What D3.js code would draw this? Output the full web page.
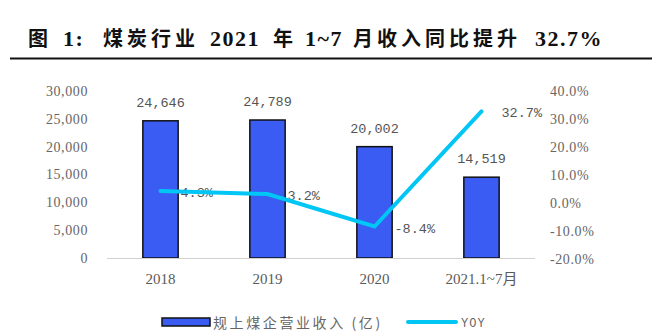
<!DOCTYPE html>
<html>
<head>
<meta charset="utf-8">
<script src="https://cdn.jsdelivr.net/npm/d3@7/dist/d3.min.js"></script>
<style>
  html, body { margin: 0; padding: 0; background: #fff; }
  svg { display: block; }
</style>
</head>
<body>
<svg id="chart" width="654" height="335"></svg>
<script>
// Coal industry revenue (100 million yuan) and year-on-year growth
const categories = ["2018", "2019", "2020", "2021.1~7月"];
const revenue = [24646, 24789, 20002, 14519];
const yoy = [4.3, 3.2, -8.4, 32.7];
const leftTicks = [0, 5000, 10000, 15000, 20000, 25000, 30000];
const rightTicks = [-20, -10, 0, 10, 20, 30, 40];
// Title pieces: [text, is-latin, x]
const titleParts = [
  ["图", false, 28], ["1:", true, 63], ["煤炭行业", false, 103], ["2021", true, 210],
  ["年", false, 273], ["1~7", true, 305], ["月收入同比提升", false, 353], ["32.7%", true, 535]
];
const seriesNames = ["规上煤企营业收入 (亿)", "YOY"];

const svg = d3.select("#chart");
const plot = { left: 107, right: 535, top: 91, bottom: 258 };

const serif = "'Liberation Serif', 'Times New Roman', 'Noto Sans CJK SC', serif";
const mono = "'Liberation Mono', 'DejaVu Sans Mono', monospace";
const cjk = "'Noto Sans CJK SC', sans-serif";

// Title and rule
const titleText = svg.append("text")
  .attr("y", 46)
  .attr("font-weight", "bold")
  .attr("fill", "#111");
titleText.selectAll("tspan")
  .data(titleParts)
  .join("tspan")
  .attr("x", d => d[2])
  .attr("font-family", d => d[1] ? serif : cjk)
  .attr("font-size", d => d[1] ? 22 : 20)
  .attr("letter-spacing", d => d[1] ? 1.5 : 4)
  .text(d => d[0]);
svg.append("line")
  .attr("x1", 10).attr("x2", 652)
  .attr("y1", 58.5).attr("y2", 58.5)
  .attr("stroke", "#111").attr("stroke-width", 2);

// Scales
const x = d3.scaleBand().domain(categories).range([plot.left, plot.right]).paddingInner(0.67).paddingOuter(0.335);
const xc = d => x(d) + x.bandwidth() / 2;
const yL = d3.scaleLinear().domain([0, 30000]).range([plot.bottom, plot.top]);
const yR = d3.scaleLinear().domain([-20, 40]).range([plot.bottom + 1, plot.top]);

// Left axis
const leftAxis = d3.axisLeft(yL).tickValues(leftTicks).tickSize(0).tickPadding(0)
  .tickFormat(d3.format(","));
const gL = svg.append("g").attr("transform", "translate(88,0)").call(leftAxis);
gL.select(".domain").remove();
gL.selectAll("text").attr("font-family", serif).attr("font-size", 14)
  .attr("letter-spacing", 0.6).attr("fill", "#666");

// Right axis
const rightAxis = d3.axisRight(yR).tickValues(rightTicks).tickSize(0).tickPadding(0)
  .tickFormat(d => d.toFixed(1) + "%");
const gR = svg.append("g").attr("transform", "translate(550,0)").call(rightAxis);
gR.select(".domain").remove();
gR.selectAll("text").attr("font-family", serif).attr("font-size", 14)
  .attr("letter-spacing", 0.6).attr("fill", "#666");

// Bars
svg.append("g").selectAll("rect")
  .data(revenue)
  .join("rect")
  .attr("x", (d, i) => x(categories[i]))
  .attr("y", d => yL(d))
  .attr("width", x.bandwidth())
  .attr("height", d => yL(0) - yL(d))
  .attr("fill", "#3a5cf2")
  .attr("stroke", "#111")
  .attr("stroke-width", 1.5);

// Category axis
svg.append("line")
  .attr("x1", plot.left).attr("x2", plot.right)
  .attr("y1", plot.bottom + 0.5).attr("y2", plot.bottom + 0.5)
  .attr("stroke", "#d0d0d0").attr("stroke-width", 1.2);
svg.append("g").selectAll("text")
  .data(categories)
  .join("text")
  .attr("x", d => xc(d))
  .attr("y", 284)
  .attr("text-anchor", "middle")
  .attr("font-family", serif)
  .attr("font-size", 15)
  .attr("fill", "#5a5a5a")
  .text(d => d);

// Bar value labels
svg.append("g").selectAll("text")
  .data(revenue)
  .join("text")
  .attr("x", (d, i) => xc(categories[i]))
  .attr("y", d => yL(d) - 14)
  .attr("text-anchor", "middle")
  .attr("font-family", mono)
  .attr("font-size", 13.5)
  .attr("fill", "#555")
  .text(d => d3.format(",")(d));

// YoY labels
svg.append("g").selectAll("text")
  .data(yoy)
  .join("text")
  .attr("x", (d, i) => xc(categories[i]) + 20)
  .attr("y", d => yR(d) + 6)
  .attr("font-family", mono)
  .attr("font-size", 13.5)
  .attr("fill", "#555")
  .text(d => d.toFixed(1) + "%");

// YoY line
const line = d3.line()
  .x((d, i) => xc(categories[i]))
  .y(d => yR(d));
svg.append("path")
  .datum(yoy)
  .attr("d", line)
  .attr("fill", "none")
  .attr("stroke", "#00c6f5")
  .attr("stroke-width", 4)
  .attr("stroke-linecap", "round")
  .attr("stroke-linejoin", "miter");

// Legend
const lg = svg.append("g");
lg.append("rect")
  .attr("x", 162).attr("y", 318).attr("width", 48).attr("height", 8)
  .attr("fill", "#3a5cf2").attr("stroke", "#111").attr("stroke-width", 1.5);
lg.append("text")
  .attr("x", 213).attr("y", 328)
  .attr("font-family", cjk).attr("font-size", 14)
  .attr("letter-spacing", 2.6)
  .attr("fill", "#666")
  .text(seriesNames[0]);
lg.append("line")
  .attr("x1", 408).attr("x2", 456).attr("y1", 322).attr("y2", 322)
  .attr("stroke", "#00c6f5").attr("stroke-width", 4).attr("stroke-linecap", "round");
lg.append("text")
  .attr("x", 461).attr("y", 327)
  .attr("font-family", mono).attr("font-size", 12)
  .attr("letter-spacing", 1)
  .attr("fill", "#666")
  .text(seriesNames[1]);
</script>
</body>
</html>
